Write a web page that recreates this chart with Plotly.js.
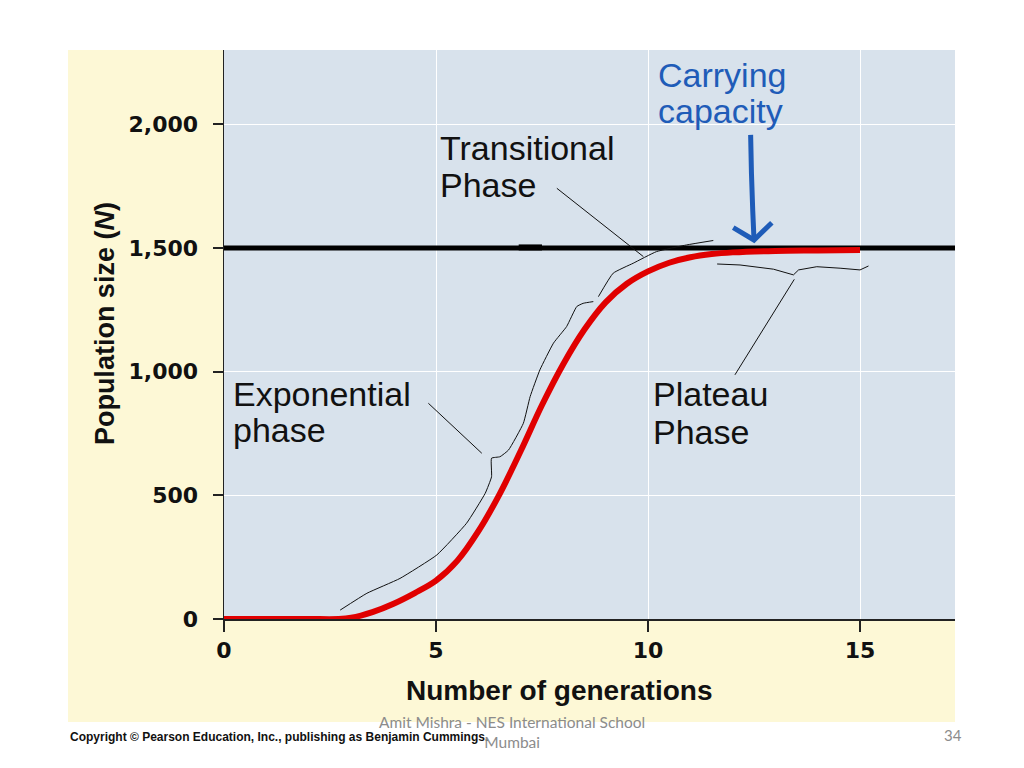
<!DOCTYPE html>
<html>
<head>
<meta charset="utf-8">
<script src="https://cdn.plot.ly/plotly-3.0.1.min.js"></script>
<style>html,body{margin:0;padding:0;background:#fff;}#chart{width:1024px;height:768px;}</style>
</head>
<body>
<div id="chart"></div>
<script>
// ---- data ----
const generations = [0, 1, 2, 2.7, 3, 3.5, 4, 4.5, 5, 5.5, 6, 6.5, 7, 7.5, 8, 8.5, 9, 9.5, 10, 10.5, 11, 11.5, 12, 13, 14, 15];
const population = [0, 0, 0, 0, 5, 28, 62, 105, 155, 235, 355, 505, 680, 865, 1030, 1170, 1280, 1355, 1405, 1440, 1462, 1475, 1482, 1488, 1490, 1492];
const capacityX = [0, 17.24];
const capacityY = [1500, 1500];
// hand-drawn sketch strokes
const sketchAX = [2.74, 3.37, 4.15, 5.02, 5.72, 6.16, 6.31, 6.31, 6.51, 6.71, 7.06, 7.22, 7.45, 7.77, 8.08, 8.32, 8.47, 8.71];
const sketchAY = [36, 104, 164, 259, 387, 508, 575, 650, 656, 683, 791, 899, 1007, 1115, 1182, 1263, 1276, 1283];
const sketchBX = [8.83, 9.18, 9.65, 10.2, 10.91, 11.54];
const sketchBY = [1303, 1398, 1438, 1485, 1512, 1530];
const sketchCX = [11.63, 12.17, 12.96, 13.27, 13.43, 13.55, 13.98, 14.53, 15.0, 15.2];
const sketchCY = [1435, 1431, 1414, 1400, 1391, 1411, 1424, 1418, 1411, 1427];
const blobX = [6.95, 7.5];
const blobY = [1502, 1502];
// tick labels
const xTicks = [0, 5, 10, 15];
const xTickText = ['0', '5', '10', '15'];
const yTicks = [0, 500, 1000, 1500, 2000];
const yTickText = ['0', '500', '1,000', '1,500', '2,000'];

const thin = {color: '#111', width: 1, shape: 'spline', smoothing: 0.4};
const traces = [
  {x: capacityX, y: capacityY, mode: 'lines', line: {color: '#000', width: 5}, hoverinfo: 'skip'},
  {x: blobX, y: blobY, mode: 'lines', line: {color: '#000', width: 6}, hoverinfo: 'skip'},
  {x: generations, y: population, mode: 'lines', line: {color: '#e00000', width: 6, shape: 'spline', smoothing: 1}, hoverinfo: 'skip'},
  {x: sketchAX, y: sketchAY, mode: 'lines', line: thin, hoverinfo: 'skip'},
  {x: sketchBX, y: sketchBY, mode: 'lines', line: thin, hoverinfo: 'skip'},
  {x: sketchCX, y: sketchCY, mode: 'lines', line: {color: '#111', width: 1}, hoverinfo: 'skip'}
];

const lab = {family: 'Liberation Sans, Arial, sans-serif', size: 34, color: '#111'};
const blue = '#1f5cb8';
function txt(t, x, y, font) {
  return {text: t, x: x, y: y, xref: 'x', yref: 'y', xanchor: 'left', yanchor: 'middle', showarrow: false, font: font || lab};
}
const annotations = [
  txt('Carrying', 10.19, 2199, Object.assign({}, lab, {color: blue})),
  txt('capacity', 10.19, 2054, Object.assign({}, lab, {color: blue})),
  txt('Transitional', 5.05, 1904),
  txt('Phase', 5.05, 1755),
  txt('Exponential', 0.17, 910),
  txt('phase', 0.17, 764),
  txt('Plateau', 10.07, 910),
  txt('Phase', 10.07, 756),
  {text: 'Number of generations', xref: 'paper', yref: 'paper', x: 0.4583, y: -0.1248, xanchor: 'center', yanchor: 'middle', showarrow: false,
   font: {family: 'Liberation Sans, Arial, sans-serif', size: 28, color: '#111', weight: 'bold'}},
  {text: 'Population size (<i>N</i>)', xref: 'paper', yref: 'paper', x: -0.1628, y: 0.52, xanchor: 'center', yanchor: 'middle', textangle: -90, showarrow: false,
   font: {family: 'Liberation Sans, Arial, sans-serif', size: 27, color: '#111', weight: 'bold'}},
  {text: 'Copyright © Pearson Education, Inc., publishing as Benjamin Cummings.', xref: 'paper', yref: 'paper', x: -0.2134, y: -0.2074, xanchor: 'left', yanchor: 'middle', showarrow: false,
   font: {family: 'Liberation Sans Narrow, Liberation Sans, Arial, sans-serif', size: 12, color: '#111', weight: 'bold'}},
  {text: 'Amit Mishra - NES International School<br>Mumbai', xref: 'paper', yref: 'paper', x: 0.394, y: -0.1986, xanchor: 'center', yanchor: 'middle', showarrow: false,
   font: {family: 'Lato, Open Sans, sans-serif', size: 15.5, color: '#8c8c8c'}},
  {text: '34', xref: 'paper', yref: 'paper', x: 0.9973, y: -0.2039, xanchor: 'center', yanchor: 'middle', showarrow: false,
   font: {family: 'Lato, Open Sans, sans-serif', size: 15, color: '#8c8c8c'}}
];

const lead = {color: '#111', width: 1};
const shapes = [
  {type: 'rect', xref: 'paper', yref: 'paper', x0: -0.2134, x1: 1, y0: -0.181, y1: 1, fillcolor: '#fdf8d6', line: {width: 0}, layer: 'below'},
  {type: 'rect', xref: 'paper', yref: 'paper', x0: 0, x1: 1, y0: 0, y1: 1, fillcolor: '#d8e2ec', line: {width: 0}, layer: 'below'},
  {type: 'line', xref: 'x', yref: 'y', x0: 7.85, y0: 1741, x1: 9.89, y1: 1465, line: lead},
  {type: 'line', xref: 'x', yref: 'y', x0: 4.82, y0: 872, x1: 6.08, y1: 670, line: lead},
  {type: 'line', xref: 'x', yref: 'y', x0: 13.45, y0: 1373, x1: 12.05, y1: 987, line: lead},
  {type: 'path', xref: 'x', yref: 'y', path: 'M 12.42 1957 L 12.44 1800 L 12.47 1650 L 12.50 1532', line: {color: blue, width: 5}},
  {type: 'path', xref: 'x', yref: 'y', path: 'M 12.01 1582 L 12.50 1532 L 12.92 1602', line: {color: blue, width: 5}}
];

const tickFont = {family: 'DejaVu Sans, sans-serif', size: 22, color: '#111', weight: 'bold'};
const layout = {
  width: 1024, height: 768,
  margin: {l: 224, r: 69, t: 50, b: 149},
  paper_bgcolor: '#ffffff', plot_bgcolor: 'rgba(0,0,0,0)',
  showlegend: false,
  xaxis: {range: [0, 17.24], tickvals: xTicks, ticktext: xTickText, ticks: 'outside', ticklen: 11, tickwidth: 2, tickcolor: '#222',
          showline: true, linecolor: '#222', linewidth: 1.5, zeroline: false, showgrid: true, gridcolor: '#ffffff', gridwidth: 1,
          tickfont: tickFont, ticklabelstandoff: 0, fixedrange: true},
  yaxis: {range: [0, 2300], tickvals: yTicks, ticktext: yTickText, ticks: 'outside', ticklen: 10, tickwidth: 2, tickcolor: '#222',
          showline: true, linecolor: '#222', linewidth: 1.5, zeroline: false, showgrid: true, gridcolor: '#ffffff', gridwidth: 1,
          tickfont: tickFont, ticklabelstandoff: 10, fixedrange: true},
  annotations: annotations,
  shapes: shapes
};
Plotly.newPlot('chart', traces, layout, {displayModeBar: false, staticPlot: true});
</script>
</body>
</html>
